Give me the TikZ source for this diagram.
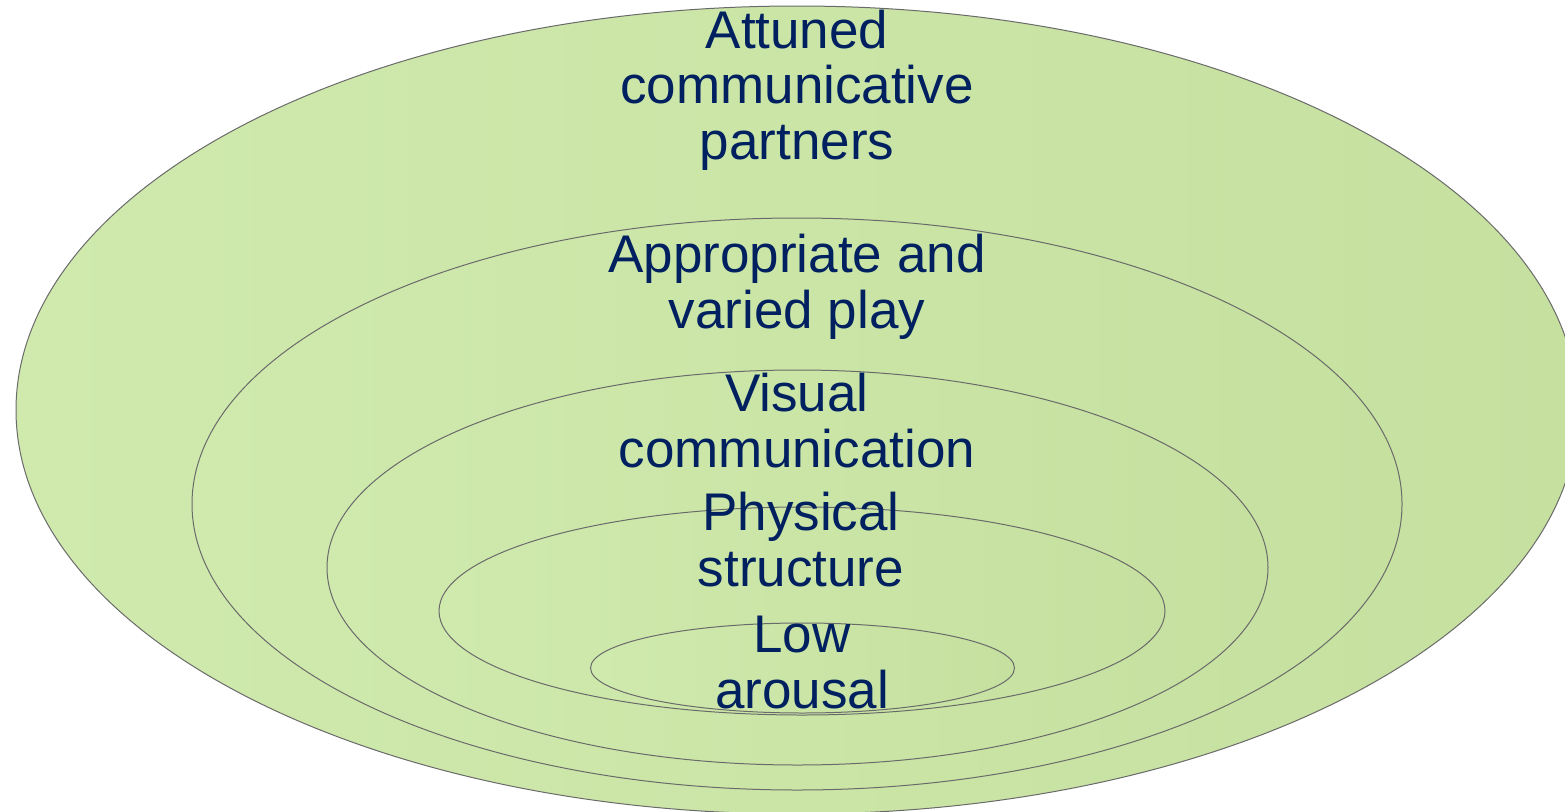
\documentclass[tikz,border=0pt]{standalone}
\usepackage{fontspec}
\setmainfont{Liberation Sans}
\usetikzlibrary{shapes.geometric}
\definecolor{fillA}{HTML}{D0EAAE}
\definecolor{fillB}{HTML}{C5E09F}
\definecolor{edge}{HTML}{6A6A6A}
\definecolor{navy}{HTML}{002060}
\tikzset{
  ring/.style={ellipse, draw=edge, line width=1pt, inner sep=0pt,
    left color=fillA, right color=fillB},
  label/.style={align=center, text=navy, inner sep=0pt, anchor=base,
    font=\fontsize{53}{55.5}\selectfont}
}
\begin{document}
\begin{tikzpicture}[x=1pt,y=-1pt]
\useasboundingbox (0,0) rectangle (1565,811);
\clip (0,0) rectangle (1565,811);
\node[ring, minimum width=1562pt, minimum height=808pt] (e1) at (797,410) {};
\node[ring, minimum width=1210pt, minimum height=572pt] (e2) at (797,504) {};
\node[ring, minimum width=941pt, minimum height=395pt] (e3) at (797.5,567.5) {};
\node[ring, minimum width=726pt, minimum height=208pt] (e4) at (802,611) {};
\node[ring, minimum width=424pt, minimum height=90pt] (e5) at (802.5,668) {};
\node[label] (t1) at (797,159) {Attuned\\communicative\\partners};
\node[label] (t2) at (797,328) {Appropriate and\\varied play};
\node[label] (t3) at (797,467) {Visual\\communication};
\node[label] (t4) at (801,586) {Physical\\structure};
\node[label] (t5) at (802,708) {Low\\arousal};
\end{tikzpicture}
\end{document}
